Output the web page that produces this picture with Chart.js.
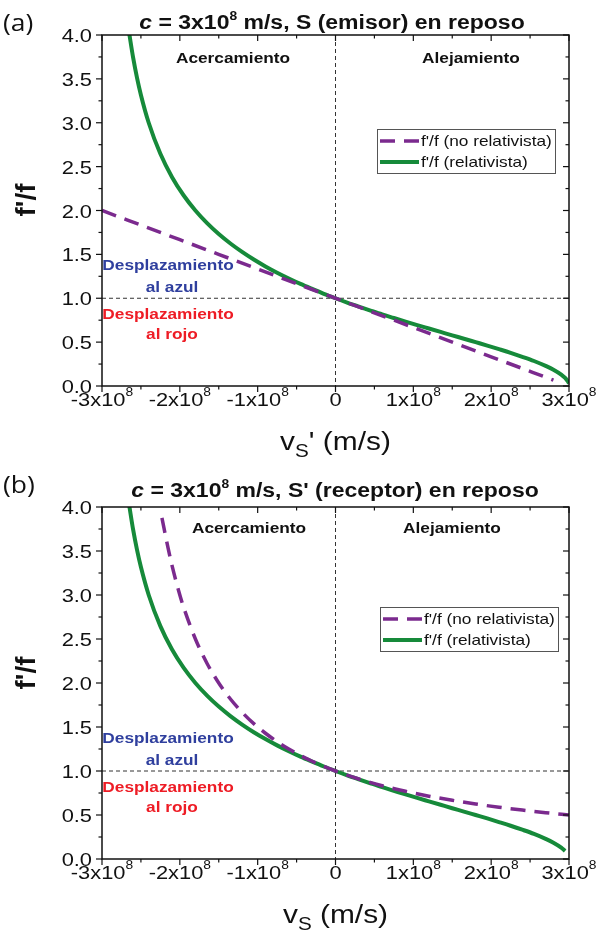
<!DOCTYPE html>
<html>
<head>
<meta charset="utf-8">
<script src="https://cdn.jsdelivr.net/npm/chart.js@4.4.0/dist/chart.umd.min.js"></script>
<style>
    body { margin: 0; background: #fff; width: 598px; height: 930px; overflow: hidden; position: relative; }
    .panel { position: absolute; left: 0; width: 598px; }
    #panelA { top: 0; height: 465px; }
    #panelB { top: 472px; height: 458px; }
</style>
</head>
<body>
<div class="panel" id="panelA"><canvas id="chartA" width="598" height="465"></canvas></div>
<div class="panel" id="panelB"><canvas id="chartB" width="598" height="458"></canvas></div>
<script>
// --- DATA (velocities in units of 1e8 m/s) ---

const xTicks = [-3, -2, -1, 0, 1, 2, 3];
const xTickLabels = ['-3x10^8', '-2x10^8', '-1x10^8', '0', '1x10^8', '2x10^8', '3x10^8'];
const yTicks = [0, 0.5, 1, 1.5, 2, 2.5, 3, 3.5, 4];
const yTickLabels = ['0.0', '0.5', '1.0', '1.5', '2.0', '2.5', '3.0', '3.5', '4.0'];
const seriesLabels = ["f'/f (no relativista)", "f'/f (relativista)"];

// (a) S (emisor) en reposo
const vA_noRel = [-3, -2, -1, 0, 1, 2, 2.8];
const fA_noRel = [2.0, 1.667, 1.333, 1.0, 0.667, 0.333, 0.067];
const vA_rel = [-2.65, -2.6, -2.55, -2.5, -2.4, -2.25, -2.1, -1.95, -1.8, -1.65, -1.5, -1.35, -1.2, -1.05,
                -0.9, -0.75, -0.6, -0.45, -0.3, -0.15, 0, 0.15, 0.3, 0.45, 0.6, 0.75, 0.9, 1.05, 1.2,
                1.35, 1.5, 1.65, 1.8, 1.95, 2.1, 2.25, 2.4, 2.55, 2.7, 2.8, 2.9, 2.95, 2.98, 3.0];
const fA_rel = [4.017, 3.742, 3.512, 3.317, 3.0, 2.646, 2.380, 2.171, 2.0, 1.856, 1.732, 1.624, 1.528, 1.441,
                1.363, 1.291, 1.225, 1.163, 1.106, 1.051, 1.0, 0.951, 0.905, 0.860, 0.816, 0.775, 0.734, 0.694, 0.655,
                0.616, 0.577, 0.539, 0.500, 0.461, 0.420, 0.378, 0.333, 0.285, 0.229, 0.186, 0.130, 0.092, 0.058, 0.03];

// (b) S' (receptor) en reposo
const vB_noRel = [-2.23, -2.15, -2.1, -2.0, -1.95, -1.8, -1.65, -1.5, -1.35, -1.2, -1.05, -0.9, -0.75, -0.6,
                  -0.45, -0.3, -0.15, 0, 0.3, 0.6, 0.9, 1.2, 1.5, 1.8, 2.1, 2.4, 2.7, 3.0];
const fB_noRel = [3.876, 3.529, 3.333, 3.0, 2.857, 2.5, 2.222, 2.0, 1.818, 1.667, 1.538, 1.429, 1.333, 1.25,
                  1.176, 1.111, 1.053, 1.0, 0.909, 0.833, 0.769, 0.714, 0.667, 0.625, 0.588, 0.556, 0.526, 0.5];
const vB_rel = [-2.65, -2.6, -2.55, -2.5, -2.4, -2.25, -2.1, -1.95, -1.8, -1.65, -1.5, -1.35, -1.2, -1.05,
                -0.9, -0.75, -0.6, -0.45, -0.3, -0.15, 0, 0.15, 0.3, 0.45, 0.6, 0.75, 0.9, 1.05, 1.2,
                1.35, 1.5, 1.65, 1.8, 1.95, 2.1, 2.25, 2.4, 2.55, 2.7, 2.8, 2.9, 2.95];
const fB_rel = [4.017, 3.742, 3.512, 3.317, 3.0, 2.646, 2.380, 2.171, 2.0, 1.856, 1.732, 1.624, 1.528, 1.441,
                1.363, 1.291, 1.225, 1.163, 1.106, 1.051, 1.0, 0.951, 0.905, 0.860, 0.816, 0.775, 0.734, 0.694, 0.655,
                0.616, 0.577, 0.539, 0.500, 0.461, 0.420, 0.378, 0.333, 0.285, 0.229, 0.186, 0.130, 0.092];

// --- STYLE ---

const PURPLE = '#7b2a8e';
const GREEN = '#168a3a';
const BLUE = '#2f3f9e';
const RED = '#ee1c25';
const FONT = '"Liberation Sans", Arial, sans-serif';
const SX = 1.15; // reference text looks horizontally stretched

function zip(xs, ys) {
    return xs.map((x, i) => ({ x: x, y: ys[i] }));
}

// draw a row of text pieces (mixed fonts / super- and subscripts)
function drawRuns(ctx, runs, x, y, align) {
    let total = 0;
    runs.forEach(r => {
        ctx.font = r.font;
        r.w = ctx.measureText(r.t).width * SX;
        total += r.w;
    });
    let cx = align === 'center' ? x - total / 2 : (align === 'right' ? x - total : x);
    runs.forEach(r => {
        ctx.save();
        ctx.font = r.font;
        ctx.fillStyle = r.color || '#111';
        ctx.textAlign = 'left';
        ctx.textBaseline = 'alphabetic';
        ctx.translate(cx, y + (r.dy || 0));
        ctx.scale(SX, 1);
        ctx.fillText(r.t, 0, 0);
        ctx.restore();
        cx += r.w;
    });
}

function line(ctx, x1, y1, x2, y2) {
    ctx.beginPath();
    ctx.moveTo(x1, y1);
    ctx.lineTo(x2, y2);
    ctx.stroke();
}

function decorPlugin(cfg) {
    return {
        id: 'decor',
        beforeDatasetsDraw(chart) {
            const { ctx, chartArea: a, scales } = chart;
            const x0 = scales.x.getPixelForValue(0);
            const y1 = scales.y.getPixelForValue(1);
            ctx.save();
            ctx.strokeStyle = '#333';
            ctx.lineWidth = 1;
            ctx.setLineDash([4, 3]);
            line(ctx, x0, a.top, x0, a.bottom);
            line(ctx, a.left, y1, a.right, y1);
            ctx.restore();
        },
        afterDraw(chart) {
            const { ctx, chartArea: a, scales } = chart;
            const xs = scales.x, ys = scales.y;
            ctx.save();

            // frame + ticks
            ctx.strokeStyle = '#111';
            ctx.lineWidth = 1.5;
            ctx.strokeRect(a.left, a.top, a.right - a.left, a.bottom - a.top);
            ctx.lineWidth = 1.2;
            xTicks.forEach((v, i) => {
                const px = xs.getPixelForValue(v);
                line(ctx, px, a.bottom, px, a.bottom + 6);
                line(ctx, px, a.top, px, a.top + 6);
                if (i < xTicks.length - 1) {
                    const mx = xs.getPixelForValue((v + xTicks[i + 1]) / 2);
                    line(ctx, mx, a.bottom, mx, a.bottom + 3.5);
                    line(ctx, mx, a.top, mx, a.top + 3.5);
                }
            });
            yTicks.forEach((v, i) => {
                const py = ys.getPixelForValue(v);
                line(ctx, a.left - 6, py, a.left, py);
                line(ctx, a.right - 6, py, a.right, py);
                if (i < yTicks.length - 1) {
                    const my = ys.getPixelForValue((v + yTicks[i + 1]) / 2);
                    line(ctx, a.left - 3.5, my, a.left, my);
                    line(ctx, a.right - 3.5, my, a.right, my);
                }
            });

            // tick labels
            yTicks.forEach((v, i) => {
                drawRuns(ctx, [{ t: yTickLabels[i], font: '19px ' + FONT }], a.left - 10, ys.getPixelForValue(v) + 7, 'right');
            });
            xTicks.forEach((v, i) => {
                const parts = xTickLabels[i].split('^');
                const runs = [{ t: parts[0], font: '19px ' + FONT }];
                if (parts[1]) runs.push({ t: parts[1], font: '12px ' + FONT, dy: -10 });
                drawRuns(ctx, runs, xs.getPixelForValue(v), a.bottom + 20, 'center');
            });

            // panel label + title
            drawRuns(ctx, [{ t: cfg.panel, font: '23px "Open Sans", ' + FONT }], 3, cfg.labelY, 'left');
            drawRuns(ctx, [
                { t: 'c', font: 'italic bold 20px ' + FONT },
                { t: ' = 3x10', font: 'bold 20px ' + FONT },
                { t: '8', font: 'bold 12px ' + FONT, dy: -9 },
                { t: cfg.titleTail, font: 'bold 20px ' + FONT }
            ], cfg.titleX, cfg.titleY, 'center');

            // axis titles
            ctx.save();
            ctx.translate(35, cfg.yTitleY);
            ctx.rotate(-Math.PI / 2);
            ctx.font = 'bold 28px ' + FONT;
            ctx.fillStyle = '#111';
            ctx.textAlign = 'center';
            ctx.textBaseline = 'alphabetic';
            ctx.fillText("f'/f", 0, 0);
            ctx.restore();
            drawRuns(ctx, [
                { t: 'v', font: '26px ' + FONT },
                { t: 'S', font: '18px ' + FONT, dy: 7 },
                { t: cfg.xPrime + ' (m/s)', font: '26px ' + FONT }
            ], xs.getPixelForValue(0), cfg.xTitleY, 'center');

            // region notes
            const bold15 = 'bold 15px ' + FONT;
            drawRuns(ctx, [{ t: 'Acercamiento', font: bold15 }], cfg.acerX, a.top + cfg.noteDy, 'center');
            drawRuns(ctx, [{ t: 'Alejamiento', font: bold15 }], cfg.alejX, a.top + cfg.noteDy, 'center');
            const y1 = ys.getPixelForValue(1);
            drawRuns(ctx, [{ t: 'Desplazamiento', font: bold15, color: BLUE }], 168, y1 - 28, 'center');
            drawRuns(ctx, [{ t: 'al azul', font: bold15, color: BLUE }], 172, y1 - 6, 'center');
            drawRuns(ctx, [{ t: 'Desplazamiento', font: bold15, color: RED }], 168, y1 + 21, 'center');
            drawRuns(ctx, [{ t: 'al rojo', font: bold15, color: RED }], 172, y1 + 41, 'center');

            // legend
            const lg = cfg.legend;
            ctx.strokeStyle = '#555';
            ctx.lineWidth = 1;
            ctx.strokeRect(lg.x + 0.5, a.top + lg.dy + 0.5, 178, 44);
            chart.data.datasets.forEach((ds, i) => {
                const ly = a.top + lg.dy + 12 + i * 21;
                ctx.save();
                ctx.strokeStyle = ds.borderColor;
                ctx.lineWidth = ds.borderWidth;
                ctx.setLineDash(ds.borderDash || []);
                line(ctx, lg.x + 3, ly, lg.x + 42, ly);
                ctx.restore();
                drawRuns(ctx, [{ t: ds.label, font: '15px ' + FONT }], lg.x + 44, ly + 5, 'left');
            });

            ctx.restore();
        }
    };
}

function makeChart(id, cfg) {
    const common = { showLine: true, pointRadius: 0, fill: false, clip: 0, cubicInterpolationMode: 'monotone' };
    return new Chart(document.getElementById(id), {
        type: 'scatter',
        data: {
            datasets: [
                Object.assign({ label: seriesLabels[0], data: zip(cfg.nrV, cfg.nrF), borderColor: PURPLE, borderWidth: 3.5, borderDash: [15, 9] }, common),
                Object.assign({ label: seriesLabels[1], data: zip(cfg.rV, cfg.rF), borderColor: GREEN, borderWidth: 4 }, common)
            ]
        },
        options: {
            responsive: false,
            animation: false,
            devicePixelRatio: 1,
            layout: { padding: { left: 0, right: 29, top: 35, bottom: 0 } },
            plugins: { legend: { display: false }, tooltip: { enabled: false }, title: { display: false } },
            scales: {
                x: {
                    type: 'linear', min: -3, max: 3,
                    ticks: { display: false, stepSize: 1 },
                    grid: { display: false, drawTicks: false },
                    border: { display: false },
                    afterFit: s => { s.height = cfg.xH; }
                },
                y: {
                    type: 'linear', min: 0, max: 4,
                    ticks: { display: false, stepSize: 0.5 },
                    grid: { display: false, drawTicks: false },
                    border: { display: false },
                    afterFit: s => { s.width = 102; }
                }
            }
        },
        plugins: [decorPlugin(cfg)]
    });
}

makeChart('chartA', {
    nrV: vA_noRel, nrF: fA_noRel, rV: vA_rel, rF: fA_rel,
    xH: 79, panel: '(a)', labelY: 31, titleX: 332, titleY: 29,
    titleTail: ' m/s, S (emisor) en reposo', xPrime: "'", xTitleY: 450, yTitleY: 200,
    acerX: 233, alejX: 471, noteDy: 28, legend: { x: 377, dy: 94 }
});

makeChart('chartB', {
    nrV: vB_noRel, nrF: fB_noRel, rV: vB_rel, rF: fB_rel,
    xH: 71, panel: '(b)', labelY: 21, titleX: 335, titleY: 25,
    titleTail: " m/s, S' (receptor) en reposo", xPrime: '', xTitleY: 451, yTitleY: 201,
    acerX: 249, alejX: 452, noteDy: 26, legend: { x: 380, dy: 100 }
});
</script>
</body>
</html>
